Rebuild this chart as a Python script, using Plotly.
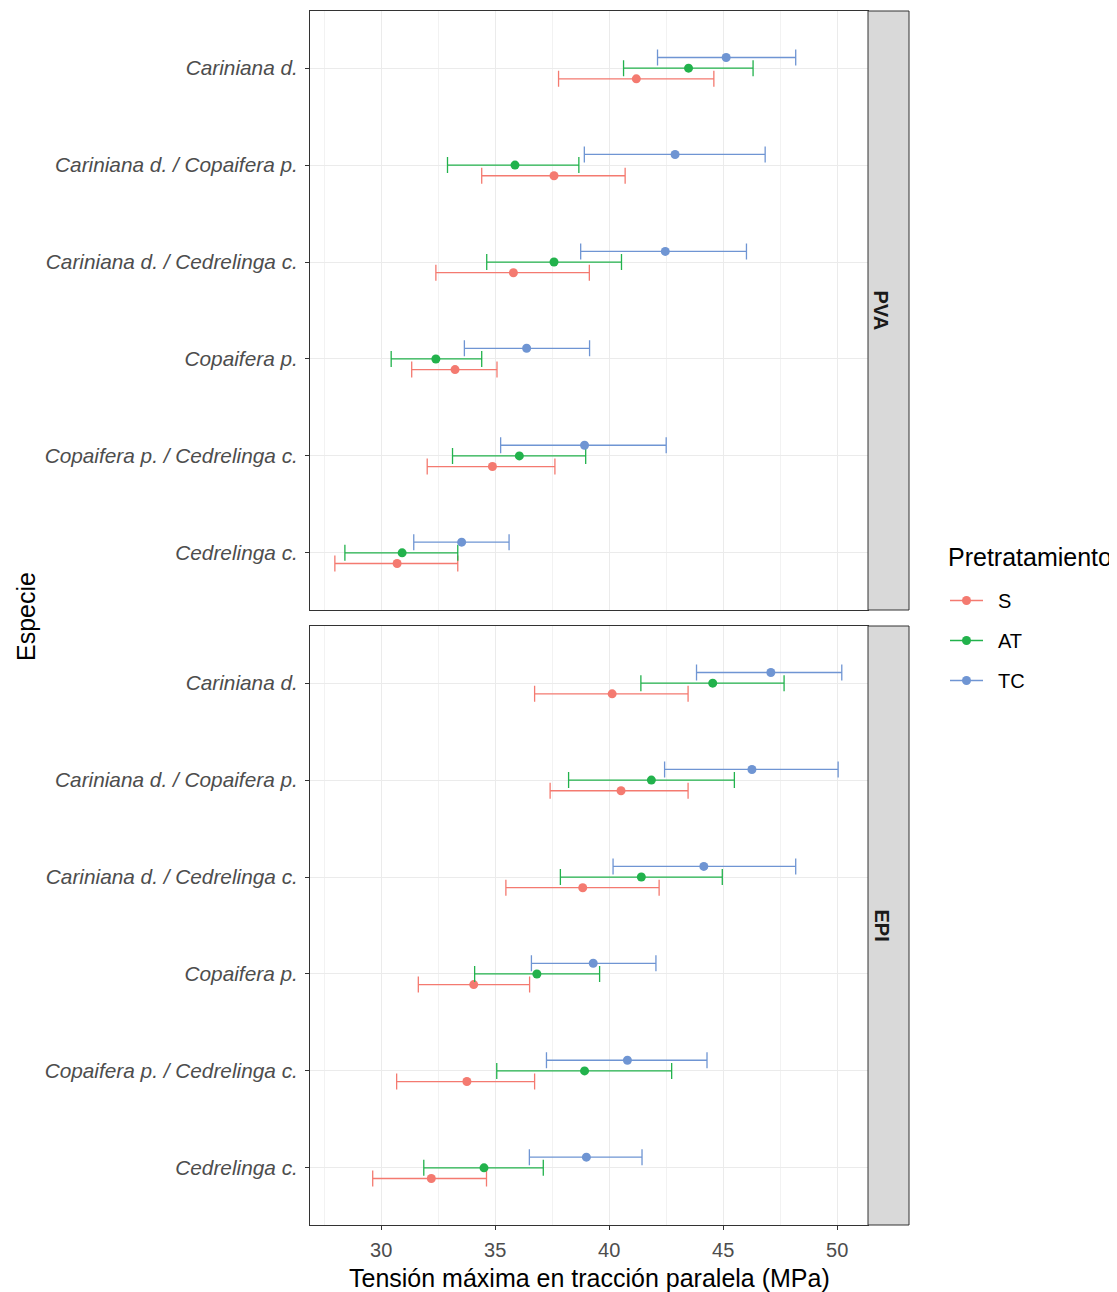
import plotly.graph_objects as go

# ---------------- data ----------------
species = ["Cariniana d.", "Cariniana d. / Copaifera p.", "Cariniana d. / Cedrelinga c.",
           "Copaifera p.", "Copaifera p. / Cedrelinga c.", "Cedrelinga c."]
treatments = ["S", "AT", "TC"]
panels = ["PVA", "EPI"]

pva_S_mean = [41.19, 37.58, 35.80, 33.24, 34.88, 30.70]
pva_S_lo   = [37.78, 34.41, 32.40, 31.34, 32.02, 27.97]
pva_S_hi   = [44.59, 40.70, 39.13, 35.08, 37.62, 33.36]
pva_AT_mean = [43.48, 35.87, 37.58, 32.40, 36.06, 30.92]
pva_AT_lo   = [40.63, 32.91, 34.63, 30.44, 33.13, 28.41]
pva_AT_hi   = [46.31, 38.67, 40.54, 34.41, 38.97, 33.36]
pva_TC_mean = [45.13, 42.89, 42.46, 36.38, 38.92, 33.53]
pva_TC_lo   = [42.12, 38.91, 38.75, 33.65, 35.24, 31.43]
pva_TC_hi   = [48.18, 46.84, 46.02, 39.14, 42.50, 35.61]

epi_S_mean = [40.13, 40.52, 38.84, 34.06, 33.76, 32.20]
epi_S_lo   = [36.73, 37.41, 35.47, 31.63, 30.68, 29.63]
epi_S_hi   = [43.46, 43.46, 42.19, 36.51, 36.73, 34.62]
epi_AT_mean = [44.54, 41.85, 41.41, 36.83, 38.92, 34.51]
epi_AT_lo   = [41.39, 38.22, 37.86, 34.10, 35.07, 31.87]
epi_AT_hi   = [47.67, 45.49, 44.96, 39.58, 42.74, 37.11]
epi_TC_mean = [47.09, 46.26, 44.15, 39.30, 40.80, 39.00]
epi_TC_lo   = [43.83, 42.43, 40.17, 36.59, 37.25, 36.50]
epi_TC_hi   = [50.20, 50.04, 48.18, 42.05, 44.29, 41.44]

x_ticks = [30, 35, 40, 45, 50]

data = {
    "PVA": {"S": (pva_S_mean, pva_S_lo, pva_S_hi),
            "AT": (pva_AT_mean, pva_AT_lo, pva_AT_hi),
            "TC": (pva_TC_mean, pva_TC_lo, pva_TC_hi)},
    "EPI": {"S": (epi_S_mean, epi_S_lo, epi_S_hi),
            "AT": (epi_AT_mean, epi_AT_lo, epi_AT_hi),
            "TC": (epi_TC_mean, epi_TC_lo, epi_TC_hi)},
}

# ---------------- style ----------------
colors = {"S": "#F47A70", "AT": "#22B24C", "TC": "#6F95D3"}
dodge = {"S": -0.11, "AT": 0.0, "TC": 0.11}
PAGE_MARGIN = 8               # browser body margin around the plot div
W, H = 1117 - PAGE_MARGIN, 1292 - PAGE_MARGIN
FONT = "Liberation Sans"


def fx(px):
    return (px - PAGE_MARGIN) / W


def fy(py):
    return 1 - (py - PAGE_MARGIN) / H


n = len(species)
ypos = [n - i for i in range(n)]  # top category highest

fig = go.Figure()
for p_i, panel in enumerate(panels):
    yref = "y" if p_i == 0 else "y2"
    xref = "x" if p_i == 0 else "x2"
    for t in treatments:
        mean, lo, hi = data[panel][t]
        fig.add_trace(go.Scatter(
            x=mean, y=[yp + dodge[t] for yp in ypos],
            xaxis=xref, yaxis=yref, mode="markers",
            marker=dict(color=colors[t], size=9),
            error_x=dict(type="data", symmetric=False,
                         array=[h - m for h, m in zip(hi, mean)],
                         arrayminus=[m - l for m, l in zip(mean, lo)],
                         color=colors[t], thickness=1.3, width=8),
            showlegend=False, hoverinfo="x+y"))

for i, t in enumerate(treatments):
    fig.add_trace(go.Scatter(
        x=[None], y=[None], mode="lines+markers", name="\u2002" + t,
        line=dict(color=colors[t], width=1.5),
        marker=dict(color=colors[t], size=9),
        legendgroup=t, showlegend=True))

xl, xr, xs = fx(310), fx(868), fx(909)
dom_top = [fy(610), fy(11)]
dom_bot = [fy(1225), fy(626)]

xrange = [26.88, 51.35]
yrange = [0.41, 6.59]

common_x = dict(range=xrange, tickvals=x_ticks, showgrid=True, gridcolor="#EBEBEB",
                gridwidth=1.1, zeroline=False, showline=True, linecolor="#333333",
                linewidth=1, mirror=True,
                minor=dict(dtick=2.5, tick0=27.5, showgrid=True, gridcolor="#F2F2F2",
                           gridwidth=0.6))
common_y = dict(range=yrange, tickvals=ypos, ticktext=species, showgrid=True,
                gridcolor="#EBEBEB", gridwidth=1.1, zeroline=False, showline=True,
                linecolor="#333333", linewidth=1, mirror=True,
                ticks="outside", ticklen=4, tickcolor="#333333",
                tickfont=dict(family=FONT, size=20.8, color="#4D4D4D", style="italic"),
                ticklabelstandoff=3)

fig.update_layout(
    width=W, height=H, margin=dict(l=0, r=0, t=0, b=0),
    plot_bgcolor="white", paper_bgcolor="white",
    font=dict(family=FONT, color="#1A1A1A"),
    xaxis=dict(domain=[xl, xr], anchor="y", showticklabels=False, ticks="", **common_x),
    yaxis=dict(domain=dom_top, anchor="x", **common_y),
    xaxis2=dict(domain=[xl, xr], anchor="y2", showticklabels=True, ticks="outside",
                ticklen=4, tickcolor="#333333", ticklabelstandoff=3,
                tickfont=dict(family=FONT, size=20, color="#4D4D4D"), **common_x),
    yaxis2=dict(domain=dom_bot, anchor="x2", **common_y),
    legend=dict(x=fx(945), xanchor="left", y=fy(581), yanchor="top",
                font=dict(family=FONT, size=20, color="#000000"),
                tracegroupgap=11, itemwidth=33, bgcolor="rgba(0,0,0,0)"),
)

# strips
shapes = []
annotations = []
for dom, label in [(dom_top, "PVA"), (dom_bot, "EPI")]:
    shapes.append(dict(type="rect", xref="paper", yref="paper", x0=xr, x1=xs,
                       y0=dom[0], y1=dom[1], fillcolor="#D9D9D9",
                       line=dict(color="#333333", width=1), layer="above"))
    annotations.append(dict(xref="paper", yref="paper", x=fx(881), y=(dom[0] + dom[1]) / 2,
                            text="<b>" + label + "</b>", textangle=90, showarrow=False,
                            font=dict(family=FONT, size=20, color="#1A1A1A"),
                            xanchor="center", yanchor="middle"))

annotations.append(dict(xref="paper", yref="paper", x=fx(589), y=fy(1278),
                        text="Tensión máxima en tracción paralela (MPa)", showarrow=False,
                        font=dict(family=FONT, size=25, color="#000000"),
                        xanchor="center", yanchor="middle"))
annotations.append(dict(xref="paper", yref="paper", x=fx(26), y=fy(617),
                        text="Especie", textangle=-90, showarrow=False,
                        font=dict(family=FONT, size=25, color="#000000"),
                        xanchor="center", yanchor="middle"))
annotations.append(dict(xref="paper", yref="paper", x=fx(946), y=fy(557),
                        text="Pretratamiento", showarrow=False,
                        font=dict(family=FONT, size=25, color="#000000"),
                        xanchor="left", yanchor="middle"))

fig.update_layout(shapes=shapes, annotations=annotations)
fig.write_html("out.html")
